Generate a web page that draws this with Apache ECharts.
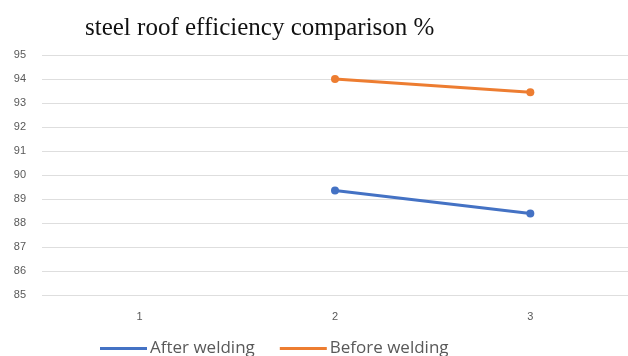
<!DOCTYPE html>
<html>
<head>
<meta charset="utf-8">
<script src="https://cdn.jsdelivr.net/npm/echarts@6/dist/echarts.min.js"></script>
<style>
  html, body { margin: 0; padding: 0; background: #fff; }
  #chart { width: 628px; height: 356px; }
</style>
</head>
<body>
<div id="chart"></div>
<script>
// Sample positions along the roof and efficiency readings (%)
const categories = ['1', '2', '3'];
const afterWelding = [null, 89.35, 88.4];
const beforeWelding = [null, 94.0, 93.45];
const yTicks = { min: 85, max: 95, step: 1 };

const chart = echarts.init(document.getElementById('chart'), null, { renderer: 'canvas' });

const labelColor = '#595959';

chart.setOption({
  animation: false,
  backgroundColor: '#ffffff',
  title: {
    text: 'steel roof efficiency comparison %',
    left: 80,
    top: 11,
    textStyle: {
      fontFamily: 'Liberation Serif',
      fontSize: 25,
      fontWeight: 'normal',
      color: '#111111'
    }
  },
  grid: { left: 42, right: 0, top: 55, bottom: 61, containLabel: false },
  xAxis: {
    type: 'category',
    data: categories,
    boundaryGap: true,
    axisLine: { show: false },
    axisTick: { show: false },
    axisLabel: { color: labelColor, fontSize: 11, fontFamily: 'Liberation Sans', margin: 16 }
  },
  yAxis: {
    type: 'value',
    min: yTicks.min,
    max: yTicks.max,
    interval: yTicks.step,
    axisLine: { show: false },
    axisTick: { show: false },
    splitLine: { lineStyle: { color: '#dedede', width: 1 } },
    axisLabel: { color: labelColor, fontSize: 11, fontFamily: 'Liberation Sans', margin: 16 }
  },
  legend: {
    left: 95,
    top: 335,
    itemWidth: 47,
    itemHeight: 3,
    itemGap: 25,
    icon: 'rect',
    textStyle: { color: labelColor, fontSize: 17, fontFamily: 'Open Sans', padding: [0, 0, 0, -2] },
    data: ['After welding', 'Before welding']
  },
  series: [
    {
      name: 'After welding',
      type: 'line',
      data: afterWelding,
      color: '#4472C4',
      lineStyle: { width: 3 },
      symbol: 'circle',
      symbolSize: 8,
      connectNulls: false
    },
    {
      name: 'Before welding',
      type: 'line',
      data: beforeWelding,
      color: '#ED7D31',
      lineStyle: { width: 3 },
      symbol: 'circle',
      symbolSize: 8,
      connectNulls: false
    }
  ]
});
</script>
</body>
</html>
